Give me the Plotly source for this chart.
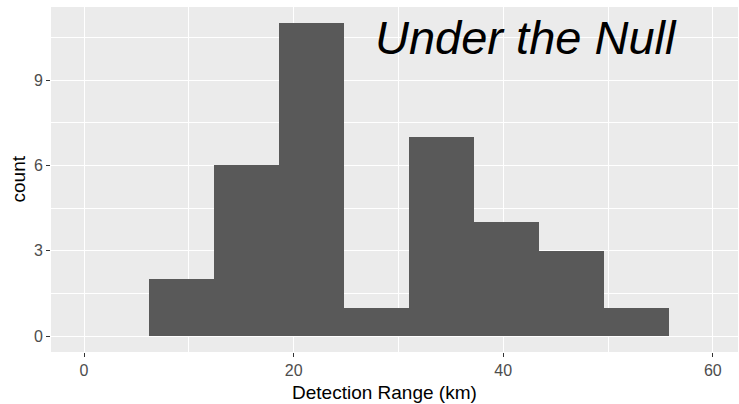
import plotly.graph_objects as go

# Histogram data
bin_start = 6.2
bin_width = 6.2
counts = [2, 6, 11, 1, 7, 4, 3, 1]
x_ticks = [0, 20, 40, 60]
y_ticks = [0, 3, 6, 9]

centers = [bin_start + bin_width * (i + 0.5) for i in range(len(counts))]

fig = go.Figure(go.Bar(
    x=centers, y=counts, width=bin_width,
    marker=dict(color="#595959", line=dict(width=0)),
    hoverinfo="x+y",
))

FONT = "Liberation Sans, Arial, sans-serif"

fig.update_layout(
    width=739, height=404,
    margin=dict(l=51, r=1, t=7, b=52),
    paper_bgcolor="white",
    plot_bgcolor="#ebebeb",
    showlegend=False,
    bargap=0,
    font=dict(family=FONT),
    xaxis=dict(
        range=[-3.15, 62.4], tickvals=x_ticks, ticktext=[str(v) for v in x_ticks],
        showgrid=True, gridcolor="white", gridwidth=1.2,
        zeroline=False, showline=False,
        ticks="outside", ticklen=4, tickwidth=1, tickcolor="#333333",
        tickfont=dict(size=16, color="#4d4d4d", family=FONT),
        minor=dict(tickvals=[10, 30, 50], showgrid=True, gridcolor="white", gridwidth=0.5, ticks=""),
    ),
    yaxis=dict(
        range=[-0.56, 11.57], tickvals=y_ticks, ticktext=[str(v) for v in y_ticks],
        showgrid=True, gridcolor="white", gridwidth=1.2,
        zeroline=False, showline=False,
        ticks="outside", ticklen=4, tickwidth=1, tickcolor="#333333",
        tickfont=dict(size=16, color="#4d4d4d", family=FONT),
        minor=dict(tickvals=[1.5, 4.5, 7.5, 10.5], showgrid=True, gridcolor="white", gridwidth=0.5, ticks=""),
    ),
    annotations=[
        dict(text="Detection Range (km)", xref="paper", yref="paper",
             x=0.485, y=0, yshift=-40, xanchor="center", yanchor="middle",
             showarrow=False, font=dict(size=19, color="black", family=FONT)),
        dict(text="count", xref="paper", yref="paper",
             x=0, xshift=-33, y=0.5, textangle=-90, xanchor="center", yanchor="middle",
             showarrow=False, font=dict(size=19, color="black", family=FONT)),
        dict(text="<i>Under the Null</i>", xref="paper", yref="paper",
             x=0.691, y=0.913, xanchor="center", yanchor="middle",
             showarrow=False, font=dict(size=47, color="black", family=FONT)),
    ],
)

fig.write_html("out.html", config={"displayModeBar": False},
               post_script="document.body.style.margin='0';document.body.style.padding='0';")
